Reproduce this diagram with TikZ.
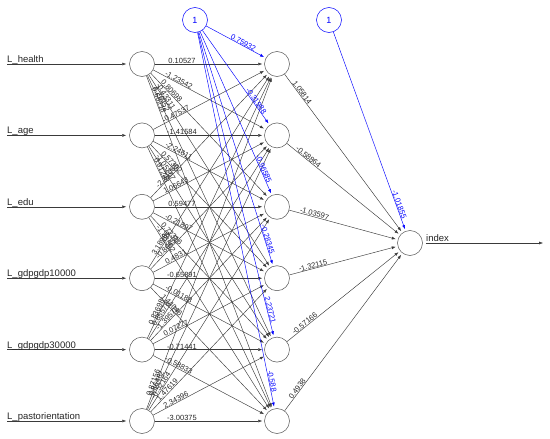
\documentclass[tikz,border=0pt]{standalone}
\usepackage{fontspec}
\setmainfont{Liberation Sans}
\usetikzlibrary{arrows.meta, calc}
\definecolor{nnblue}{HTML}{0000FF}
\definecolor{nngray}{HTML}{3A3A3A}
\definecolor{ringgray}{HTML}{555555}

\begin{document}
\begin{tikzpicture}[
  x=1pt, y=-1pt,
  >={Latex[length=4pt, width=3pt]},
  neuron/.style={circle, draw=ringgray, fill=white, line width=0.5pt, minimum size=25pt, inner sep=0pt},
  biasnode/.style={neuron, draw=nnblue, text=nnblue, font=\fontsize{9}{10}\selectfont},
  wline/.style={->, nngray, line width=0.45pt, shorten >=2pt},
  bline/.style={->, nnblue, line width=0.45pt, shorten >=2pt},
  wlab/.style={sloped, anchor=south, inner sep=0.3pt, font=\fontsize{7.5}{8}\selectfont, text=black!85},
  blab/.style={wlab, text=nnblue},
  varlab/.style={anchor=base west, inner sep=0pt, font=\fontsize{9.5}{11}\selectfont, text=black!85},
]

\useasboundingbox (0,0) rectangle (550,439);

% === Nodes ===
\node[neuron] (in1) at (142,64) {};
\node[neuron] (in2) at (142,135.4) {};
\node[neuron] (in3) at (142,206.8) {};
\node[neuron] (in4) at (142,278.2) {};
\node[neuron] (in5) at (142,349.6) {};
\node[neuron] (in6) at (142,421) {};

\node[neuron] (hid1) at (277,64) {};
\node[neuron] (hid2) at (277,135.4) {};
\node[neuron] (hid3) at (277,206.8) {};
\node[neuron] (hid4) at (277,278.2) {};
\node[neuron] (hid5) at (277,349.6) {};
\node[neuron] (hid6) at (277,421) {};

\node[neuron] (out) at (410,243) {};

\node[biasnode] (bias1) at (195,20) {1};
\node[biasnode] (bias2) at (329,20) {1};

% === Input arrows and names ===
\coordinate (src1) at (7,64);
\coordinate (src2) at (7,135.4);
\coordinate (src3) at (7,206.8);
\coordinate (src4) at (7,278.2);
\coordinate (src5) at (7,349.6);
\coordinate (src6) at (7,421);
\draw[wline, shorten >=3pt] (src1) -- (in1);
\draw[wline, shorten >=3pt] (src2) -- (in2);
\draw[wline, shorten >=3pt] (src3) -- (in3);
\draw[wline, shorten >=3pt] (src4) -- (in4);
\draw[wline, shorten >=3pt] (src5) -- (in5);
\draw[wline, shorten >=3pt] (src6) -- (in6);
\node[varlab] (lab1) at (7,62.5) {L\_health};
\node[varlab] (lab2) at (7,133.9) {L\_age};
\node[varlab] (lab3) at (7,205.3) {L\_edu};
\node[varlab] (lab4) at (7,276.7) {L\_gdpgdp10000};
\node[varlab] (lab5) at (7,348.1) {L\_gdpgdp30000};
\node[varlab] (lab6) at (7,419.5) {L\_pastorientation};

% === Input -> hidden weights ===
\foreach \j/\w in {1/0.10527, 2/-1.23542, 3/0.80698, 4/-0.43311, 5/1.26952, 6/0.66218} {
  \draw[wline] (in1) -- (hid\j);
  \path (in1) -- ($(in1)!40pt!(hid\j)$) node[pos=1, wlab] {\w};
}
\foreach \j/\w in {1/-0.47537, 2/-1.41584, 3/-2.24611, 4/0.57392, 5/-1.05267, 6/0.91248} {
  \draw[wline] (in2) -- (hid\j);
  \path (in2) -- ($(in2)!40pt!(hid\j)$) node[pos=1, wlab] {\w};
}
\foreach \j/\w in {1/-2.31065, 2/1.06643, 3/0.59477, 4/-0.21897, 5/0.72316, 6/-1.48562} {
  \draw[wline] (in3) -- (hid\j);
  \path (in3) -- ($(in3)!40pt!(hid\j)$) node[pos=1, wlab] {\w};
}
\foreach \j/\w in {1/3.18986, 2/-0.86459, 3/0.4831, 4/-0.65891, 5/-0.01188, 6/1.44046} {
  \draw[wline] (in4) -- (hid\j);
  \path (in4) -- ($(in4)!40pt!(hid\j)$) node[pos=1, wlab] {\w};
}
\foreach \j/\w in {1/0.83698, 2/0.85578, 3/-1.39572, 4/0.07227, 5/-0.71441, 6/-0.58833} {
  \draw[wline] (in5) -- (hid\j);
  \path (in5) -- ($(in5)!40pt!(hid\j)$) node[pos=1, wlab] {\w};
}
\foreach \j/\w in {1/0.87156, 2/0.86482, 3/-0.52164, 4/1.47619, 5/2.34396, 6/-3.00375} {
  \draw[wline] (in6) -- (hid\j);
  \path (in6) -- ($(in6)!40pt!(hid\j)$) node[pos=1, wlab] {\w};
}

% === Bias -> hidden ===
\foreach \j/\w in {1/0.75932, 2/-0.31988, 3/-0.96585, 4/-0.28345, 5/2.23721, 6/-0.588} {
  \draw[bline] (bias1) -- (hid\j);
  \path (bias1) -- ($(hid\j)!40pt!(bias1)$) node[pos=1, blab] {\w};
}

% === Hidden -> output ===
\foreach \j/\w in {1/1.05814, 2/-0.58864, 3/-1.03597, 4/-1.32115, 5/-0.57166, 6/0.4938} {
  \draw[wline] (hid\j) -- (out);
  \path (hid\j) -- ($(hid\j)!38pt!(out)$) node[pos=1, wlab] {\w};
}
\draw[bline] (bias2) -- (out);
\path (bias2) -- ($(out)!40pt!(bias2)$) node[pos=1, blab] {-1.01855};

% === Output ===
\coordinate (sink) at (543,243);
\draw[wline, shorten <=3pt, shorten >=0pt] (out) -- (sink);
\node[varlab] (outlab) at (426,241.5) {index};

\end{tikzpicture}
\end{document}
